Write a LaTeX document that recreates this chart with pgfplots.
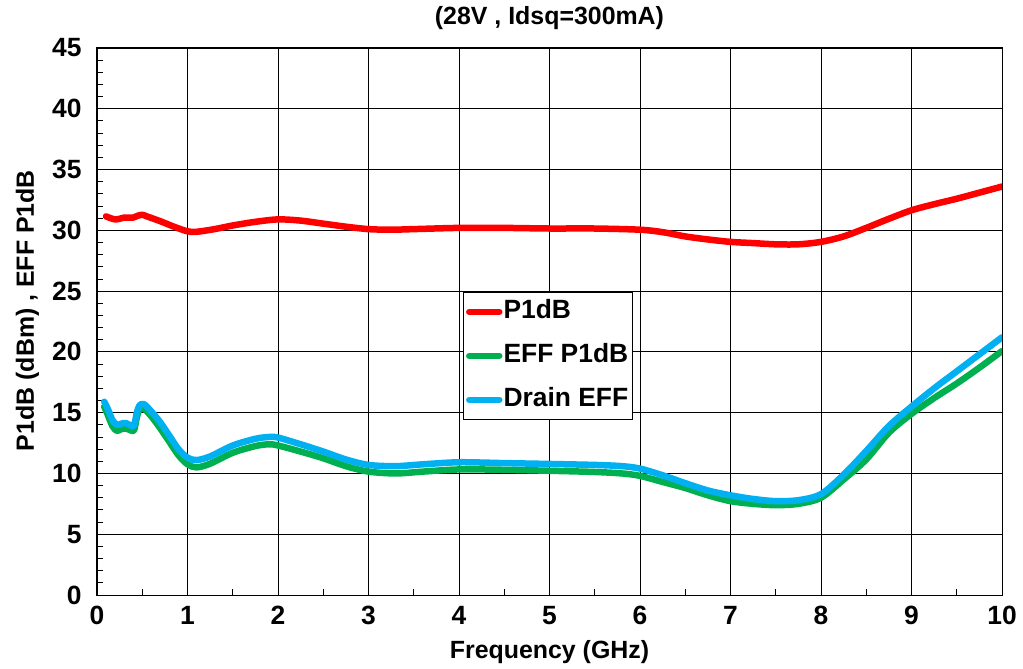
\documentclass[border=0pt]{standalone}
\usepackage{pgfplots}
\pgfplotsset{compat=1.18}
\usepackage{fontspec}
\setmainfont{Liberation Sans}
\definecolor{cRed}{RGB}{255,0,0}
\definecolor{cGreen}{RGB}{0,176,80}
\definecolor{cBlue}{RGB}{0,176,240}
\begin{document}
\begin{tikzpicture}
\begin{axis}[
  scale only axis, width=905bp, height=547bp,
  xmin=0, xmax=10, ymin=0, ymax=45,
  xtick={0,1,...,10}, ytick={0,5,...,45},
  minor x tick num=1, minor y tick num=4,
  tick align=inside, tick pos=left,
  major tick length=0pt, minor tick length=6bp,
  grid=major,
  major grid style={black, line width=0.9bp},
  axis line style={black, line width=1bp},
  every tick/.style={black, line width=0.9bp},
  /pgf/number format/assume math mode=true,
  ticklabel style={font=\bfseries\fontsize{26.5}{30}\selectfont},
  xticklabel style={yshift=-8bp},
  yticklabel style={xshift=-12bp},
  xlabel={Frequency (GHz)},
  ylabel={P1dB (dBm) , EFF P1dB},
  label style={font=\bfseries\fontsize{25}{28}\selectfont},
  xlabel style={at={(axis description cs:0.5,0)}, anchor=base, yshift=-63bp},
  ylabel style={at={(axis description cs:-0.077,0.52)}, anchor=center},
  title={(28V , Idsq=300mA)},
  title style={font=\bfseries\fontsize{25}{28}\selectfont, at={(axis description cs:0.5,1)}, anchor=base, yshift=18bp},
  legend style={at={(rel axis cs:0.404,0.554)}, anchor=north west,
    draw=black, line width=0.8bp, fill=white,
    font=\bfseries\fontsize{26.5}{30}\selectfont,
    row sep=13bp, inner xsep=3bp, inner ysep=4bp,
    nodes={inner xsep=1bp, inner ysep=3bp, text height=19bp, text depth=6bp}},
  legend cell align=left,
  legend image code/.code={\draw[#1] (0bp,0bp) -- (30bp,0bp);},
  every axis plot/.append style={line width=6.5bp, line cap=round, line join=round, smooth},
]
\addplot[cRed] coordinates {
(0.1,31.15)(0.15,31.0)(0.2,30.9)(0.25,30.95)(0.3,31.05)(0.35,31.05)(0.4,31.05)(0.45,31.2)(0.5,31.28)(0.55,31.15)(0.7,30.75)(0.85,30.3)(1.0,29.92)(1.1,29.88)(1.3,30.1)(1.5,30.4)(1.75,30.7)(2.0,30.9)(2.25,30.8)(2.5,30.55)(2.75,30.3)(3.0,30.1)(3.25,30.05)(3.5,30.1)(4.0,30.2)(4.5,30.2)(5.0,30.15)(5.5,30.15)(6.0,30.05)(6.25,29.85)(6.5,29.5)(6.75,29.25)(7.0,29.05)(7.25,28.95)(7.5,28.85)(7.75,28.85)(8.0,29.05)(8.25,29.5)(8.5,30.2)(8.75,30.95)(9.0,31.65)(9.25,32.15)(9.5,32.6)(9.75,33.1)(10.0,33.6)
};
\addlegendentry{P1dB}
\addplot[cGreen] coordinates {
(0.08,15.5)(0.12,14.8)(0.17,13.9)(0.22,13.5)(0.27,13.65)(0.32,13.7)(0.37,13.55)(0.41,13.55)(0.44,14.6)(0.47,15.25)(0.52,15.3)(0.6,14.7)(0.7,13.7)(0.8,12.6)(0.9,11.5)(1.0,10.75)(1.1,10.5)(1.25,10.8)(1.5,11.7)(1.75,12.25)(1.9,12.4)(2.0,12.3)(2.25,11.8)(2.5,11.25)(2.75,10.6)(3.0,10.15)(3.3,10.0)(3.6,10.15)(4.0,10.33)(4.5,10.3)(5.0,10.22)(5.5,10.12)(5.8,10.0)(6.0,9.8)(6.25,9.3)(6.5,8.8)(6.75,8.2)(7.0,7.72)(7.25,7.5)(7.5,7.39)(7.75,7.5)(8.0,8.0)(8.25,9.5)(8.5,11.15)(8.75,13.35)(9.0,14.9)(9.25,16.2)(9.5,17.4)(9.75,18.7)(10.0,20.07)
};
\addlegendentry{EFF P1dB}
\addplot[cBlue] coordinates {
(0.08,15.9)(0.12,15.3)(0.17,14.4)(0.22,14.0)(0.27,14.1)(0.32,14.15)(0.37,13.95)(0.41,13.95)(0.44,15.0)(0.47,15.6)(0.52,15.7)(0.6,15.1)(0.7,14.2)(0.8,13.1)(0.9,12.0)(1.0,11.3)(1.1,11.1)(1.25,11.4)(1.5,12.3)(1.75,12.85)(1.9,13.0)(2.0,12.95)(2.25,12.4)(2.5,11.8)(2.75,11.15)(3.0,10.7)(3.3,10.6)(3.6,10.75)(4.0,10.92)(4.5,10.85)(5.0,10.78)(5.5,10.7)(5.8,10.6)(6.0,10.4)(6.25,9.85)(6.5,9.2)(6.75,8.6)(7.0,8.2)(7.25,7.9)(7.5,7.72)(7.75,7.8)(8.0,8.3)(8.25,9.9)(8.5,11.85)(8.75,13.9)(9.0,15.5)(9.25,17.0)(9.5,18.4)(9.75,19.8)(10.0,21.2)
};
\addlegendentry{Drain EFF}
\end{axis}
\path (current axis.south west) ++(-97bp,-74bp) rectangle ++(1023bp,669bp);
\end{tikzpicture}
\end{document}
